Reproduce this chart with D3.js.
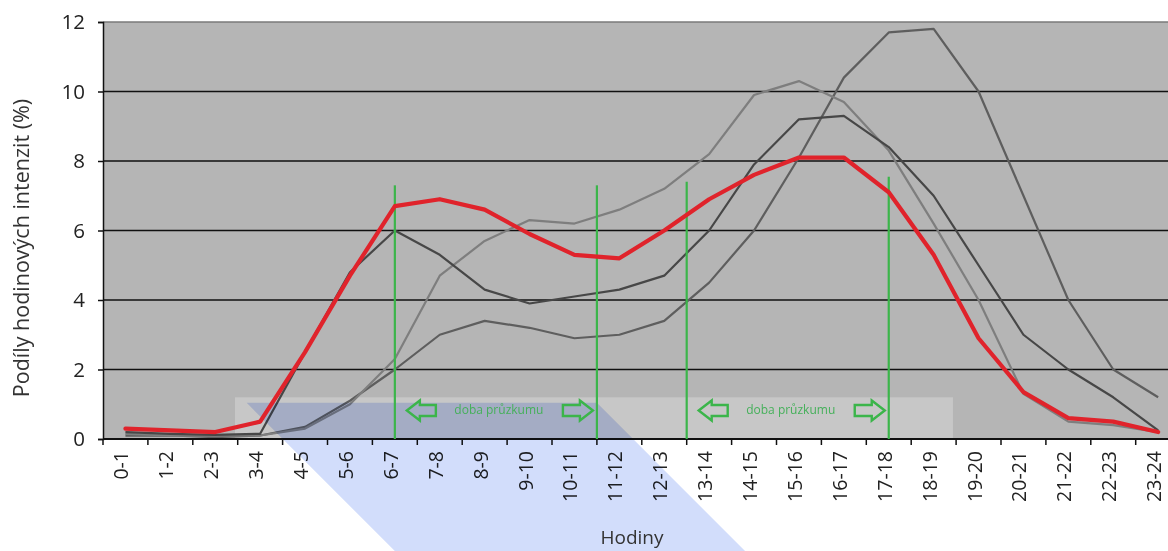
<!DOCTYPE html>
<html><head><meta charset="utf-8">
<script src="https://cdn.jsdelivr.net/npm/d3@7"></script>
<style>
html,body{margin:0;padding:0;background:#fff;}
svg{display:block;font-family:"Open Sans",sans-serif;}
</style></head>
<body><svg id="c" width="1168" height="551"></svg>
<script>
const categories = ["0-1","1-2","2-3","3-4","4-5","5-6","6-7","7-8","8-9","9-10","10-11","11-12","12-13","13-14","14-15","15-16","16-17","17-18","18-19","19-20","20-21","21-22","22-23","23-24"];
const redSeries  = [0.3,0.25,0.2,0.5,2.5,4.7,6.7,6.9,6.6,5.9,5.3,5.2,6.0,6.9,7.6,8.1,8.1,7.1,5.3,2.9,1.35,0.6,0.5,0.2];
const graySeriesA = [0.2,0.15,0.12,0.15,2.5,4.8,6.0,5.3,4.3,3.9,4.1,4.3,4.7,6.0,7.9,9.2,9.3,8.4,7.0,5.0,3.0,2.0,1.2,0.25];
const graySeriesB = [0.15,0.1,0.1,0.1,0.3,1.0,2.3,4.7,5.7,6.3,6.2,6.6,7.2,8.2,9.9,10.3,9.7,8.3,6.2,4.0,1.3,0.5,0.4,0.2];
const graySeriesC = [0.1,0.1,0.05,0.1,0.35,1.1,2.0,3.0,3.4,3.2,2.9,3.0,3.4,4.5,6.0,8.1,10.4,11.7,11.8,10.0,7.0,4.0,2.0,1.2];
const yTicks = [0,2,4,6,8,10,12];
const surveyMarkers = [6.5, 11, 13, 17.5];       // hours
const surveyMarkerTops = [7.3, 7.3, 7.4, 7.55];  // value units
const surveyPeriods = [[6.5, 11], [13, 17.5]];
const surveyLabel = "doba průzkumu";
const yTitle = "Podíly hodinových intenzit (%)";
const xTitle = "Hodiny";

(function(){
const svg = d3.select("#c");
const W = 1168, H = 551;
const pLeft = 103, pTop = 22, pBottom = 439, pRight = 103 + 24*44.9;

svg.append("rect").attr("width", W).attr("height", H).attr("fill", "#fff");

const x = d3.scaleBand().domain(categories).range([pLeft, pRight]).padding(0);
const hx = d3.scaleLinear().domain([0, 24]).range([pLeft, pRight]);
const y = d3.scaleLinear().domain([0, 12]).range([pBottom, pTop]);
const cx = c => x(c) + x.bandwidth()/2;

// plot background
svg.append("rect").attr("x", pLeft).attr("y", pTop).attr("width", pRight-pLeft).attr("height", pBottom-pTop).attr("fill", "#b5b5b5");

// grid lines
svg.append("g").selectAll("line").data(yTicks.filter(t => t > 0)).join("line")
  .attr("x1", pLeft).attr("x2", pRight).attr("y1", d => y(d)).attr("y2", d => y(d))
  .attr("stroke", d => d === 12 ? "#7a7a7a" : "#111").attr("stroke-width", 1.6);

// light band
svg.append("rect").attr("x", hx(2.94)).attr("y", y(1.2)).attr("width", hx(18.93)-hx(2.94)).attr("height", pBottom - y(1.2))
  .attr("fill", "#c7c7c7");

// gray lines
const line = d3.line().x((d,i) => cx(categories[i])).y(d => y(d));
[[graySeriesC, "#5e5e5e"], [graySeriesB, "#7e7e7e"], [graySeriesA, "#474747"]].forEach(([s, col]) => {
  svg.append("path").datum(s).attr("d", line).attr("fill", "none").attr("stroke", col).attr("stroke-width", 2.2).attr("stroke-linejoin", "round");
});

// axes
const yAxis = d3.axisLeft(y).tickValues(yTicks).tickSize(5).tickPadding(13);
const gy = svg.append("g").attr("transform", `translate(${pLeft},0)`).call(yAxis);
gy.select(".domain").attr("stroke", "#111").attr("stroke-width", 1.5);
gy.selectAll(".tick line").attr("stroke", "#111").attr("stroke-width", 1.5);
gy.selectAll("text").attr("font-size", 20.5).attr("fill", "#222").attr("font-family", "Open Sans");

const gx = svg.append("g").attr("transform", `translate(0,${pBottom})`);
gx.append("line").attr("x1", pLeft).attr("x2", pRight).attr("stroke", "#111").attr("stroke-width", 1.8);
gx.selectAll(".tk").data(d3.range(0, 25)).join("line").attr("class", "tk")
  .attr("x1", d => hx(d)).attr("x2", d => hx(d)).attr("y1", 0).attr("y2", 6)
  .attr("stroke", "#111").attr("stroke-width", 1.5);
gx.selectAll(".lbl").data(categories).join("text").attr("class", "lbl")
  .attr("transform", d => `translate(${cx(d)+3},12) rotate(-90)`)
  .attr("text-anchor", "end").attr("font-size", 19.5).attr("fill", "#222").text(d => d);

// blue selection overlay (multiply)
const blueTop = y(1.04), bottomY = H;
const pL = hx(3.2), pR = hx(11.0);
const slope = bottomY - blueTop;
svg.append("polygon")
  .attr("points", [[pL, blueTop], [pR, blueTop], [pR + slope, bottomY], [pL + slope, bottomY]].map(p => p.join(",")).join(" "))
  .attr("fill", "#d2ddfb").style("mix-blend-mode", "multiply");

// axis titles
svg.append("text").attr("transform", `translate(29,248) rotate(-90)`).attr("text-anchor", "middle")
  .attr("font-size", 21.5).attr("fill", "#333").text(yTitle);
svg.append("text").attr("x", 632).attr("y", 544).attr("text-anchor", "middle")
  .attr("font-size", 19).attr("fill", "#333").text(xTitle);

// green survey markers
const green = "#3bb54a";
svg.append("g").selectAll("line").data(surveyMarkers).join("line")
  .attr("x1", d => hx(d)).attr("x2", d => hx(d))
  .attr("y1", (d,i) => y(surveyMarkerTops[i])).attr("y2", pBottom)
  .attr("stroke", green).attr("stroke-width", 2.2);

// arrows + labels
const ay = y(0.82);
function arrow(tipX, tailX) {
  const dir = Math.sign(tailX - tipX);
  const headLen = 13, hh = 10, sh = 5.5;
  const hb = tipX + dir*headLen;
  const pts = [[tipX, ay], [hb, ay-hh], [hb, ay-sh], [tailX, ay-sh], [tailX, ay+sh], [hb, ay+sh], [hb, ay+hh]];
  svg.append("polygon").attr("points", pts.map(p => p.join(",")).join(" "))
    .attr("fill", "none").attr("stroke", green).attr("stroke-width", 2.4).attr("stroke-linejoin", "miter");
}
surveyPeriods.forEach(([a, b]) => {
  const xa = hx(a), xb = hx(b);
  arrow(xa + 12, xa + 41);
  arrow(xb - 4, xb - 34);
  svg.append("text").attr("x", (xa + xb)/2 + 3).attr("y", ay + 3).attr("text-anchor", "middle")
    .attr("font-size", 12).attr("fill", "#45b05a").text(surveyLabel);
});

// red series
svg.append("path").datum(redSeries).attr("d", line).attr("fill", "none").attr("stroke", "#e0232b")
  .attr("stroke-width", 4.2).attr("stroke-linejoin", "round").attr("stroke-linecap", "round");
})();
</script></body></html>
